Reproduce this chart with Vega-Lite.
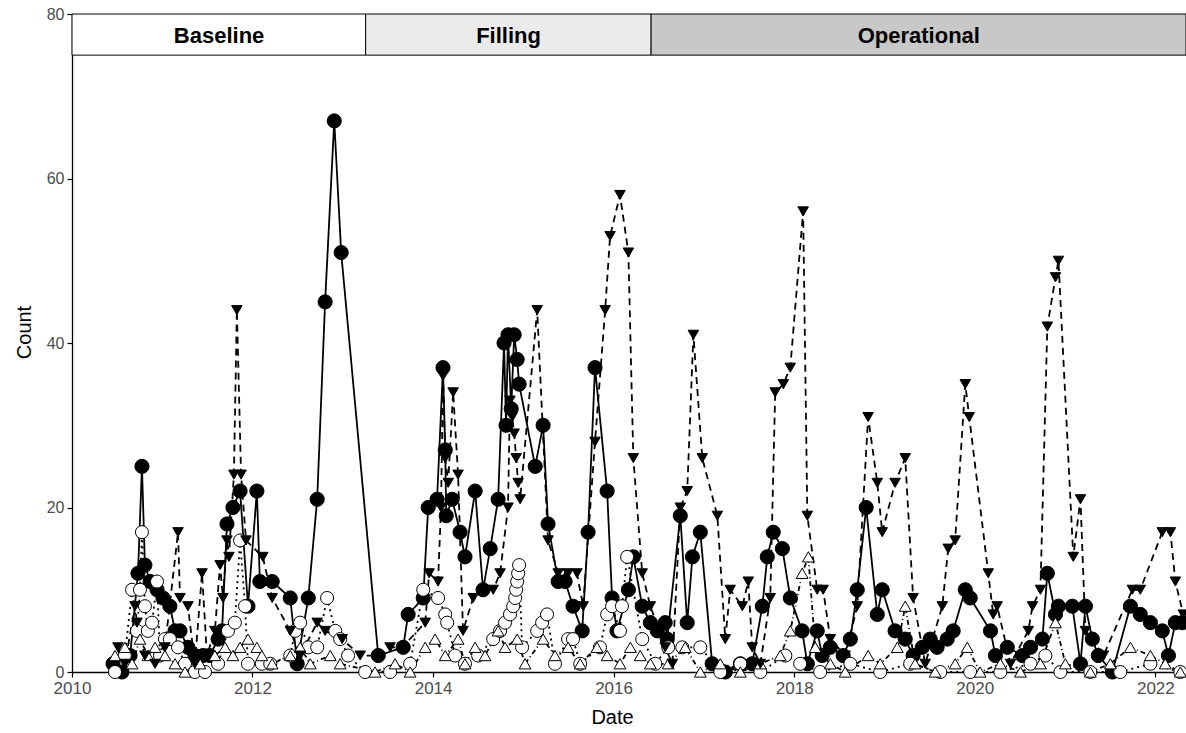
{
  "$schema": "https://vega.github.io/schema/vega-lite/v6.json",
  "width": 1114,
  "height": 658,
  "autosize": {"type": "none"},
  "padding": {"left": 72, "top": 14, "right": 0, "bottom": 61},
  "background": "white",
  "config": {
    "view": {"stroke": null},
    "font": "Liberation Sans",
    "axis": {
      "grid": false, "domainColor": "black", "domainWidth": 1.3, "tickColor": "black", "tickWidth": 1.2, "tickSize": 5,
      "labelColor": "#4d4d4d", "labelFontSize": 16, "labelPadding": 3, "labelFlush": false,
      "titleFontSize": 20, "titleFontWeight": "normal", "titleColor": "black"
    }
  },
  "resolve": {"scale": {"fill": "independent"}},
  "datasets": {
    "phases": [
      {"phase": "Baseline", "start": "2010-01-01", "end": "2013-04-03", "mid": "2011-08-19"},
      {"phase": "Filling", "start": "2013-04-03", "end": "2016-06-01", "mid": "2014-11-02"},
      {"phase": "Operational", "start": "2016-06-01", "end": "2022-05-05", "mid": "2019-05-20"}
    ],
    "obs": [
      {"date":"2010-06-16","series":"A","count":1},{"date":"2010-07-22","series":"A","count":0},{"date":"2010-08-24","series":"A","count":2},{"date":"2010-09-25","series":"A","count":12},{"date":"2010-10-11","series":"A","count":25},{"date":"2010-10-23","series":"A","count":13},{"date":"2010-11-13","series":"A","count":11},{"date":"2010-12-11","series":"A","count":10},{"date":"2011-01-04","series":"A","count":9},{"date":"2011-02-01","series":"A","count":8},{"date":"2011-02-22","series":"A","count":5},{"date":"2011-03-14","series":"A","count":5},{"date":"2011-04-15","series":"A","count":3},{"date":"2011-05-13","series":"A","count":2},{"date":"2011-06-15","series":"A","count":2},{"date":"2011-07-13","series":"A","count":2},{"date":"2011-08-15","series":"A","count":4},{"date":"2011-08-31","series":"A","count":5},{"date":"2011-09-20","series":"A","count":18},{"date":"2011-10-14","series":"A","count":20},{"date":"2011-11-12","series":"A","count":22},{"date":"2011-12-14","series":"A","count":8},{"date":"2012-01-19","series":"A","count":22},{"date":"2012-01-31","series":"A","count":11},{"date":"2012-03-21","series":"A","count":11},{"date":"2012-06-02","series":"A","count":9},{"date":"2012-06-30","series":"A","count":1},{"date":"2012-08-14","series":"A","count":9},{"date":"2012-09-19","series":"A","count":21},{"date":"2012-10-21","series":"A","count":45},{"date":"2012-11-27","series":"A","count":67},{"date":"2012-12-25","series":"A","count":51},{"date":"2013-05-24","series":"A","count":2},{"date":"2013-09-02","series":"A","count":3},{"date":"2013-09-22","series":"A","count":7},{"date":"2013-11-22","series":"A","count":9},{"date":"2013-12-12","series":"A","count":20},{"date":"2014-01-17","series":"A","count":21},{"date":"2014-02-10","series":"A","count":37},{"date":"2014-02-19","series":"A","count":27},{"date":"2014-02-23","series":"A","count":19},{"date":"2014-03-19","series":"A","count":21},{"date":"2014-04-20","series":"A","count":17},{"date":"2014-05-10","series":"A","count":14},{"date":"2014-06-20","series":"A","count":22},{"date":"2014-07-22","series":"A","count":10},{"date":"2014-08-20","series":"A","count":15},{"date":"2014-09-21","series":"A","count":21},{"date":"2014-10-15","series":"A","count":40},{"date":"2014-10-23","series":"A","count":30},{"date":"2014-10-31","series":"A","count":41},{"date":"2014-11-13","series":"A","count":32},{"date":"2014-11-25","series":"A","count":41},{"date":"2014-12-07","series":"A","count":38},{"date":"2014-12-15","series":"A","count":35},{"date":"2015-02-18","series":"A","count":25},{"date":"2015-03-22","series":"A","count":30},{"date":"2015-04-11","series":"A","count":18},{"date":"2015-05-22","series":"A","count":11},{"date":"2015-06-19","series":"A","count":11},{"date":"2015-07-21","series":"A","count":8},{"date":"2015-08-27","series":"A","count":5},{"date":"2015-09-20","series":"A","count":17},{"date":"2015-10-18","series":"A","count":37},{"date":"2015-12-06","series":"A","count":22},{"date":"2015-12-26","series":"A","count":9},{"date":"2016-01-15","series":"A","count":5},{"date":"2016-03-01","series":"A","count":10},{"date":"2016-03-21","series":"A","count":14},{"date":"2016-04-26","series":"A","count":8},{"date":"2016-05-29","series":"A","count":6},{"date":"2016-06-26","series":"A","count":5},{"date":"2016-07-28","series":"A","count":6},{"date":"2016-08-05","series":"A","count":4},{"date":"2016-09-27","series":"A","count":19},{"date":"2016-10-25","series":"A","count":6},{"date":"2016-11-15","series":"A","count":14},{"date":"2016-12-17","series":"A","count":17},{"date":"2017-02-03","series":"A","count":1},{"date":"2017-03-28","series":"A","count":0},{"date":"2017-05-28","series":"A","count":1},{"date":"2017-07-15","series":"A","count":1},{"date":"2017-08-25","series":"A","count":8},{"date":"2017-09-14","series":"A","count":14},{"date":"2017-10-08","series":"A","count":17},{"date":"2017-11-14","series":"A","count":15},{"date":"2017-12-16","series":"A","count":9},{"date":"2018-02-02","series":"A","count":5},{"date":"2018-02-23","series":"A","count":1},{"date":"2018-04-04","series":"A","count":5},{"date":"2018-04-24","series":"A","count":2},{"date":"2018-05-27","series":"A","count":3},{"date":"2018-07-18","series":"A","count":2},{"date":"2018-08-16","series":"A","count":4},{"date":"2018-09-13","series":"A","count":10},{"date":"2018-10-19","series":"A","count":20},{"date":"2018-12-03","series":"A","count":7},{"date":"2018-12-23","series":"A","count":10},{"date":"2019-02-13","series":"A","count":5},{"date":"2019-03-26","series":"A","count":4},{"date":"2019-04-27","series":"A","count":2},{"date":"2019-06-03","series":"A","count":3},{"date":"2019-07-05","series":"A","count":4},{"date":"2019-08-02","series":"A","count":3},{"date":"2019-09-12","series":"A","count":4},{"date":"2019-10-06","series":"A","count":5},{"date":"2019-11-24","series":"A","count":10},{"date":"2019-12-14","series":"A","count":9},{"date":"2020-03-05","series":"A","count":5},{"date":"2020-03-25","series":"A","count":2},{"date":"2020-05-12","series":"A","count":3},{"date":"2020-07-12","series":"A","count":2},{"date":"2020-08-14","series":"A","count":3},{"date":"2020-10-01","series":"A","count":4},{"date":"2020-10-21","series":"A","count":12},{"date":"2020-11-23","series":"A","count":7},{"date":"2020-12-05","series":"A","count":8},{"date":"2021-01-30","series":"A","count":8},{"date":"2021-03-04","series":"A","count":1},{"date":"2021-03-24","series":"A","count":8},{"date":"2021-04-21","series":"A","count":4},{"date":"2021-05-15","series":"A","count":2},{"date":"2021-07-11","series":"A","count":0},{"date":"2021-09-22","series":"A","count":8},{"date":"2021-11-01","series":"A","count":7},{"date":"2021-12-12","series":"A","count":6},{"date":"2022-01-29","series":"A","count":5},{"date":"2022-02-23","series":"A","count":2},{"date":"2022-03-23","series":"A","count":6},{"date":"2022-04-20","series":"A","count":6},

      {"date":"2010-06-24","series":"B","count":0},{"date":"2010-08-03","series":"B","count":2},{"date":"2010-09-01","series":"B","count":10},{"date":"2010-09-21","series":"B","count":5},{"date":"2010-10-03","series":"B","count":10},{"date":"2010-10-11","series":"B","count":17},{"date":"2010-10-23","series":"B","count":8},{"date":"2010-11-04","series":"B","count":5},{"date":"2010-11-21","series":"B","count":6},{"date":"2010-12-11","series":"B","count":11},{"date":"2010-12-23","series":"B","count":2},{"date":"2011-01-12","series":"B","count":4},{"date":"2011-02-01","series":"B","count":4},{"date":"2011-03-06","series":"B","count":3},{"date":"2011-04-03","series":"B","count":1},{"date":"2011-05-13","series":"B","count":0},{"date":"2011-06-23","series":"B","count":0},{"date":"2011-08-15","series":"B","count":1},{"date":"2011-09-24","series":"B","count":5},{"date":"2011-10-22","series":"B","count":6},{"date":"2011-11-12","series":"B","count":16},{"date":"2011-12-02","series":"B","count":8},{"date":"2011-12-14","series":"B","count":1},{"date":"2012-02-08","series":"B","count":1},{"date":"2012-03-13","series":"B","count":1},{"date":"2012-06-02","series":"B","count":2},{"date":"2012-06-22","series":"B","count":5},{"date":"2012-07-12","series":"B","count":6},{"date":"2012-08-14","series":"B","count":3},{"date":"2012-09-19","series":"B","count":3},{"date":"2012-10-29","series":"B","count":9},{"date":"2012-12-01","series":"B","count":5},{"date":"2012-12-21","series":"B","count":4},{"date":"2013-01-22","series":"B","count":2},{"date":"2013-04-01","series":"B","count":0},{"date":"2013-07-11","series":"B","count":0},{"date":"2013-09-30","series":"B","count":1},{"date":"2013-11-22","series":"B","count":10},{"date":"2014-01-21","series":"B","count":9},{"date":"2014-02-19","series":"B","count":7},{"date":"2014-02-27","series":"B","count":6},{"date":"2014-03-31","series":"B","count":2},{"date":"2014-05-10","series":"B","count":1},{"date":"2014-07-02","series":"B","count":2},{"date":"2014-09-01","series":"B","count":4},{"date":"2014-09-29","series":"B","count":5},{"date":"2014-10-19","series":"B","count":6},{"date":"2014-11-08","series":"B","count":7},{"date":"2014-11-21","series":"B","count":8},{"date":"2014-11-29","series":"B","count":9},{"date":"2014-12-03","series":"B","count":10},{"date":"2014-12-07","series":"B","count":11},{"date":"2014-12-11","series":"B","count":12},{"date":"2014-12-15","series":"B","count":13},{"date":"2014-12-27","series":"B","count":3},{"date":"2015-02-26","series":"B","count":5},{"date":"2015-03-18","series":"B","count":6},{"date":"2015-04-07","series":"B","count":7},{"date":"2015-05-09","series":"B","count":1},{"date":"2015-07-01","series":"B","count":4},{"date":"2015-07-21","series":"B","count":4},{"date":"2015-08-19","series":"B","count":1},{"date":"2015-11-07","series":"B","count":3},{"date":"2015-12-06","series":"B","count":7},{"date":"2015-12-26","series":"B","count":8},{"date":"2016-01-27","series":"B","count":5},{"date":"2016-02-04","series":"B","count":8},{"date":"2016-02-25","series":"B","count":14},{"date":"2016-04-26","series":"B","count":4},{"date":"2016-06-18","series":"B","count":1},{"date":"2016-08-09","series":"B","count":3},{"date":"2016-10-05","series":"B","count":3},{"date":"2016-12-17","series":"B","count":3},{"date":"2017-03-08","series":"B","count":0},{"date":"2017-05-28","series":"B","count":1},{"date":"2017-08-17","series":"B","count":0},{"date":"2017-11-26","series":"B","count":2},{"date":"2018-01-25","series":"B","count":1},{"date":"2018-04-16","series":"B","count":0},{"date":"2018-08-16","series":"B","count":1},{"date":"2018-12-15","series":"B","count":0},{"date":"2019-04-15","series":"B","count":1},{"date":"2019-08-15","series":"B","count":0},{"date":"2019-12-14","series":"B","count":0},{"date":"2020-04-14","series":"B","count":0},{"date":"2020-08-14","series":"B","count":1},{"date":"2020-10-13","series":"B","count":2},{"date":"2020-12-13","series":"B","count":0},{"date":"2021-04-13","series":"B","count":0},{"date":"2021-08-12","series":"B","count":0},{"date":"2021-12-12","series":"B","count":1},{"date":"2022-04-12","series":"B","count":0},

      {"date":"2010-06-24","series":"C","count":2},{"date":"2010-08-03","series":"C","count":3},{"date":"2010-09-01","series":"C","count":1},{"date":"2010-10-03","series":"C","count":4},{"date":"2010-11-04","series":"C","count":2},{"date":"2010-12-03","series":"C","count":3},{"date":"2011-01-12","series":"C","count":2},{"date":"2011-02-22","series":"C","count":1},{"date":"2011-04-03","series":"C","count":0},{"date":"2011-06-03","series":"C","count":1},{"date":"2011-08-02","series":"C","count":2},{"date":"2011-09-12","series":"C","count":3},{"date":"2011-10-14","series":"C","count":2},{"date":"2011-11-12","series":"C","count":3},{"date":"2011-12-14","series":"C","count":4},{"date":"2012-01-19","series":"C","count":3},{"date":"2012-02-08","series":"C","count":2},{"date":"2012-03-21","series":"C","count":1},{"date":"2012-06-02","series":"C","count":2},{"date":"2012-07-12","series":"C","count":3},{"date":"2012-08-22","series":"C","count":1},{"date":"2012-11-11","series":"C","count":2},{"date":"2012-12-21","series":"C","count":1},{"date":"2013-05-11","series":"C","count":0},{"date":"2013-07-31","series":"C","count":1},{"date":"2013-09-30","series":"C","count":0},{"date":"2013-11-30","series":"C","count":3},{"date":"2014-01-09","series":"C","count":4},{"date":"2014-02-19","series":"C","count":2},{"date":"2014-04-12","series":"C","count":4},{"date":"2014-05-10","series":"C","count":1},{"date":"2014-06-20","series":"C","count":3},{"date":"2014-07-30","series":"C","count":2},{"date":"2014-09-21","series":"C","count":5},{"date":"2014-10-19","series":"C","count":3},{"date":"2014-12-07","series":"C","count":4},{"date":"2015-01-08","series":"C","count":1},{"date":"2015-03-22","series":"C","count":4},{"date":"2015-05-09","series":"C","count":2},{"date":"2015-07-01","series":"C","count":3},{"date":"2015-08-19","series":"C","count":1},{"date":"2015-10-26","series":"C","count":3},{"date":"2015-12-06","series":"C","count":2},{"date":"2016-01-27","series":"C","count":1},{"date":"2016-03-09","series":"C","count":3},{"date":"2016-04-18","series":"C","count":2},{"date":"2016-05-29","series":"C","count":1},{"date":"2016-08-09","series":"C","count":1},{"date":"2016-10-17","series":"C","count":3},{"date":"2016-12-17","series":"C","count":0},{"date":"2017-03-08","series":"C","count":1},{"date":"2017-05-28","series":"C","count":0},{"date":"2017-08-17","series":"C","count":1},{"date":"2017-11-05","series":"C","count":2},{"date":"2017-12-16","series":"C","count":5},{"date":"2018-02-02","series":"C","count":12},{"date":"2018-02-27","series":"C","count":14},{"date":"2018-03-27","series":"C","count":3},{"date":"2018-05-27","series":"C","count":1},{"date":"2018-07-26","series":"C","count":0},{"date":"2018-10-27","series":"C","count":2},{"date":"2018-12-15","series":"C","count":1},{"date":"2019-02-22","series":"C","count":3},{"date":"2019-03-26","series":"C","count":8},{"date":"2019-05-05","series":"C","count":1},{"date":"2019-07-25","series":"C","count":0},{"date":"2019-10-14","series":"C","count":1},{"date":"2019-12-02","series":"C","count":3},{"date":"2020-01-23","series":"C","count":0},{"date":"2020-04-14","series":"C","count":1},{"date":"2020-07-04","series":"C","count":0},{"date":"2020-09-23","series":"C","count":1},{"date":"2020-11-23","series":"C","count":6},{"date":"2021-01-02","series":"C","count":1},{"date":"2021-04-13","series":"C","count":0},{"date":"2021-07-03","series":"C","count":1},{"date":"2021-09-22","series":"C","count":3},{"date":"2021-12-12","series":"C","count":2},{"date":"2022-02-10","series":"C","count":1},{"date":"2022-04-12","series":"C","count":0},

      {"date":"2010-07-06","series":"D","count":3},{"date":"2010-08-03","series":"D","count":1},{"date":"2010-09-13","series":"D","count":8},{"date":"2010-09-21","series":"D","count":6},{"date":"2010-10-23","series":"D","count":2},{"date":"2010-12-03","series":"D","count":1},{"date":"2011-01-12","series":"D","count":3},{"date":"2011-03-06","series":"D","count":17},{"date":"2011-03-14","series":"D","count":9},{"date":"2011-04-15","series":"D","count":8},{"date":"2011-05-13","series":"D","count":1},{"date":"2011-06-11","series":"D","count":12},{"date":"2011-07-01","series":"D","count":2},{"date":"2011-08-02","series":"D","count":5},{"date":"2011-08-23","series":"D","count":13},{"date":"2011-09-04","series":"D","count":9},{"date":"2011-09-20","series":"D","count":16},{"date":"2011-09-28","series":"D","count":14},{"date":"2011-10-18","series":"D","count":24},{"date":"2011-10-30","series":"D","count":44},{"date":"2011-11-16","series":"D","count":24},{"date":"2011-12-06","series":"D","count":16},{"date":"2012-02-12","series":"D","count":14},{"date":"2012-03-21","series":"D","count":9},{"date":"2012-06-02","series":"D","count":5},{"date":"2012-07-12","series":"D","count":2},{"date":"2012-09-19","series":"D","count":6},{"date":"2012-10-21","series":"D","count":5},{"date":"2012-12-29","series":"D","count":4},{"date":"2013-03-12","series":"D","count":2},{"date":"2013-05-24","series":"D","count":2},{"date":"2013-07-11","series":"D","count":3},{"date":"2013-08-29","series":"D","count":3},{"date":"2013-11-30","series":"D","count":6},{"date":"2013-12-16","series":"D","count":12},{"date":"2014-01-21","series":"D","count":11},{"date":"2014-02-02","series":"D","count":20},{"date":"2014-02-10","series":"D","count":36},{"date":"2014-02-19","series":"D","count":26},{"date":"2014-03-03","series":"D","count":23},{"date":"2014-03-23","series":"D","count":34},{"date":"2014-04-12","series":"D","count":24},{"date":"2014-05-02","series":"D","count":5},{"date":"2014-06-12","series":"D","count":9},{"date":"2014-07-22","series":"D","count":10},{"date":"2014-09-01","series":"D","count":10},{"date":"2014-09-29","series":"D","count":12},{"date":"2014-10-31","series":"D","count":20},{"date":"2014-11-08","series":"D","count":33},{"date":"2014-11-17","series":"D","count":31},{"date":"2014-11-25","series":"D","count":29},{"date":"2014-12-03","series":"D","count":26},{"date":"2014-12-11","series":"D","count":23},{"date":"2014-12-19","series":"D","count":21},{"date":"2015-02-26","series":"D","count":44},{"date":"2015-04-11","series":"D","count":16},{"date":"2015-05-22","series":"D","count":12},{"date":"2015-07-01","series":"D","count":12},{"date":"2015-08-06","series":"D","count":12},{"date":"2015-08-31","series":"D","count":8},{"date":"2015-10-18","series":"D","count":28},{"date":"2015-11-28","series":"D","count":44},{"date":"2015-12-18","series":"D","count":53},{"date":"2016-01-27","series":"D","count":58},{"date":"2016-03-01","series":"D","count":51},{"date":"2016-03-21","series":"D","count":26},{"date":"2016-04-26","series":"D","count":12},{"date":"2016-05-29","series":"D","count":8},{"date":"2016-07-28","series":"D","count":3},{"date":"2016-08-26","series":"D","count":1},{"date":"2016-09-27","series":"D","count":20},{"date":"2016-10-25","series":"D","count":22},{"date":"2016-11-19","series":"D","count":41},{"date":"2016-12-25","series":"D","count":26},{"date":"2017-02-24","series":"D","count":19},{"date":"2017-03-28","series":"D","count":4},{"date":"2017-04-17","series":"D","count":10},{"date":"2017-06-05","series":"D","count":8},{"date":"2017-06-29","series":"D","count":11},{"date":"2017-07-15","series":"D","count":3},{"date":"2017-08-17","series":"D","count":1},{"date":"2017-09-26","series":"D","count":9},{"date":"2017-10-16","series":"D","count":34},{"date":"2017-11-18","series":"D","count":35},{"date":"2017-12-16","series":"D","count":37},{"date":"2018-02-06","series":"D","count":56},{"date":"2018-02-23","series":"D","count":19},{"date":"2018-04-04","series":"D","count":10},{"date":"2018-04-28","series":"D","count":10},{"date":"2018-05-27","series":"D","count":4},{"date":"2018-07-26","series":"D","count":2},{"date":"2018-09-13","series":"D","count":8},{"date":"2018-10-27","series":"D","count":31},{"date":"2018-12-03","series":"D","count":23},{"date":"2018-12-23","series":"D","count":17},{"date":"2019-02-13","series":"D","count":23},{"date":"2019-03-26","series":"D","count":26},{"date":"2019-04-27","series":"D","count":9},{"date":"2019-06-15","series":"D","count":1},{"date":"2019-08-23","series":"D","count":8},{"date":"2019-09-16","series":"D","count":15},{"date":"2019-10-14","series":"D","count":16},{"date":"2019-11-24","series":"D","count":35},{"date":"2019-12-10","series":"D","count":31},{"date":"2020-02-25","series":"D","count":12},{"date":"2020-03-16","series":"D","count":7},{"date":"2020-04-01","series":"D","count":8},{"date":"2020-05-25","series":"D","count":1},{"date":"2020-08-05","series":"D","count":5},{"date":"2020-08-22","series":"D","count":8},{"date":"2020-09-23","series":"D","count":10},{"date":"2020-10-21","series":"D","count":42},{"date":"2020-11-23","series":"D","count":48},{"date":"2020-12-05","series":"D","count":50},{"date":"2021-02-03","series":"D","count":14},{"date":"2021-03-04","series":"D","count":21},{"date":"2021-03-24","series":"D","count":5},{"date":"2021-06-05","series":"D","count":2},{"date":"2021-09-30","series":"D","count":10},{"date":"2021-11-01","series":"D","count":10},{"date":"2022-01-29","series":"D","count":17},{"date":"2022-03-03","series":"D","count":17},{"date":"2022-03-23","series":"D","count":11},{"date":"2022-04-24","series":"D","count":7}
    ]
  },
  "layer": [
    {
      "data": {"name": "phases"},
      "mark": {"type": "rect", "stroke": "black", "strokeWidth": 1},
      "encoding": {
        "x": {"field": "start", "type": "temporal", "scale": {"domain": ["2010-01-01", "2022-05-05"], "nice": false}, "axis": {"title": "Date", "format": "%Y", "tickCount": {"interval": "year", "step": 2}, "titlePadding": 11, "titleX": 540, "labelFontSize": 17}},
        "x2": {"field": "end"},
        "y": {"datum": 75, "type": "quantitative", "scale": {"domain": [0, 80], "nice": false}, "axis": {"title": "Count", "values": [0, 20, 40, 60, 80], "titlePadding": 12, "titleY": 318}},
        "y2": {"datum": 80},
        "fill": {"field": "phase", "type": "nominal", "scale": {"domain": ["Baseline", "Filling", "Operational"], "range": ["#ffffff", "#ebebeb", "#c8c8c8"]}, "legend": null}
      }
    },
    {
      "data": {"name": "phases"},
      "mark": {"type": "text", "fontWeight": "bold", "fontSize": 22, "color": "black", "baseline": "middle", "align": "center", "dy": 1},
      "encoding": {
        "x": {"field": "mid", "type": "temporal"},
        "y": {"datum": 77.5, "type": "quantitative"},
        "text": {"field": "phase", "type": "nominal"}
      }
    },
    {
      "data": {"name": "obs"},
      "mark": {"type": "line", "color": "black", "strokeWidth": 1.8},
      "encoding": {
        "x": {"field": "date", "type": "temporal"},
        "y": {"field": "count", "type": "quantitative"},
        "strokeDash": {"field": "series", "type": "nominal", "scale": {"domain": ["A", "B", "C", "D"], "range": [[1, 0], [2, 4], [1, 3, 5, 3], [7, 5]]}, "legend": null}
      }
    },
    {
      "data": {"name": "obs"},
      "mark": {"type": "point", "filled": true, "stroke": "black", "strokeWidth": 1, "opacity": 1},
      "encoding": {
        "x": {"field": "date", "type": "temporal"},
        "y": {"field": "count", "type": "quantitative"},
        "shape": {"field": "series", "type": "nominal", "scale": {"domain": ["A", "B", "C", "D"], "range": ["circle", "circle", "triangle-up", "triangle-down"]}, "legend": null},
        "fill": {"field": "series", "type": "nominal", "scale": {"domain": ["A", "B", "C", "D"], "range": ["#000000", "#ffffff", "#ffffff", "#000000"]}, "legend": null},
        "size": {"field": "series", "type": "nominal", "scale": {"domain": ["A", "B", "C", "D"], "range": [200, 110, 180, 270]}, "legend": null}
      }
    }
  ]
}
